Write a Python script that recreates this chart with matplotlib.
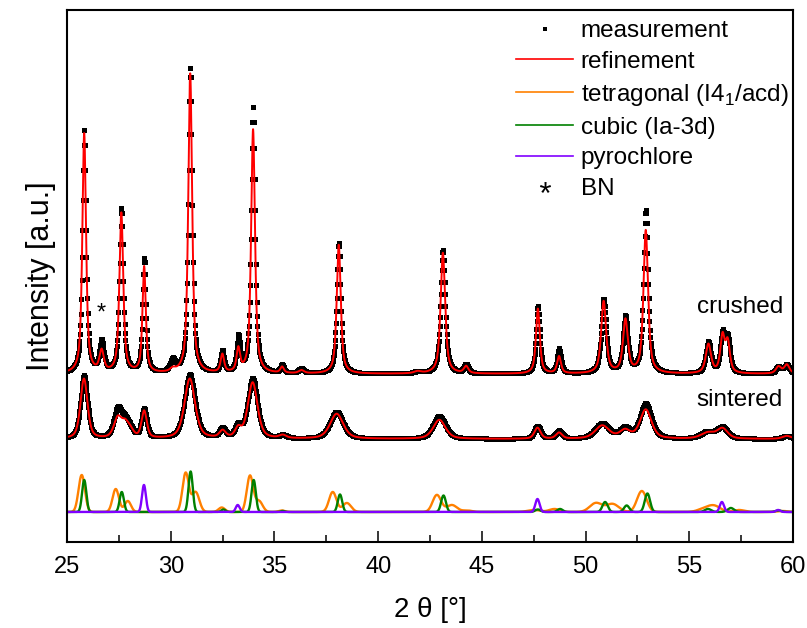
import numpy as np
import matplotlib
matplotlib.use('Agg')
import matplotlib.pyplot as plt
from matplotlib.lines import Line2D

plt.rcParams['font.family'] = ['Liberation Sans', 'DejaVu Sans']
plt.rcParams['mathtext.fontset'] = 'custom'
plt.rcParams['mathtext.rm'] = 'Liberation Sans'

# 2theta grids: measured scan steps and a finer one for the calculated curves
scan_theta = np.arange(25.0, 60.0001, 0.02)
two_theta = np.arange(25.0, 60.0001, 0.005)

# crushed sample: peak position, fitted height, observed height, FWHM
crushed_pos = [25.83, 26.67, 27.62, 28.72, 30.10, 30.94, 32.49, 33.26, 33.97, 35.37, 36.30,
               38.10, 41.90, 43.12, 44.24, 47.70, 48.72, 50.87, 51.92, 52.90, 55.92, 56.60,
               56.85, 59.30, 59.70]
crushed_fit = [240, 21, 160, 106, 3, 300, 18, 23, 244, 6, 3,
               129, 2, 121, 7, 65, 17, 72, 53, 143, 29, 36,
               30, 7, 9]
crushed_obs = [245, 31, 164, 114, 12, 305, 21, 35, 268, 8, 5,
               131, 2, 124, 9, 67, 25, 74, 56, 163, 31, 38,
               34, 7, 9]
crushed_w = [0.21, 0.25, 0.22, 0.19, 0.30, 0.22, 0.20, 0.20, 0.22, 0.20, 0.30,
             0.23, 0.40, 0.26, 0.25, 0.22, 0.22, 0.28, 0.28, 0.26, 0.30, 0.25,
             0.25, 0.30, 0.30]
crushed_bg = 168

# sintered sample
sintered_pos = [25.82, 27.45, 27.80, 28.05, 28.72, 30.92, 32.50, 33.25, 33.95, 35.40,
                38.00, 42.95, 47.68, 48.72, 50.80, 51.90, 52.90, 55.90, 56.60, 59.70]
sintered_fit = [60, 20, 12, 7, 27, 60, 7, 9, 56, 3,
                25, 19, 11, 6, 13, 8, 29, 6, 10, 3]
sintered_obs = [63, 29, 14, 7, 29, 64, 9, 12, 60, 3,
                27, 23, 13, 8, 15, 10, 35, 7, 11, 3]
sintered_w = [0.40, 0.45, 0.40, 0.40, 0.30, 0.60, 0.35, 0.35, 0.55, 0.40,
              0.75, 0.70, 0.35, 0.35, 0.80, 0.60, 0.65, 0.80, 0.60, 0.50]
sintered_bg = 103

# reference phases
tetra_pos = [25.71, 27.35, 27.93, 30.72, 31.20, 32.46, 33.82, 34.25, 35.35, 37.81, 38.49,
             42.83, 43.55, 44.30, 47.50, 48.50, 50.50, 51.30, 52.71, 55.70, 56.20, 57.40, 59.50]
tetra_h = [37, 23, 11, 39, 20, 4.5, 36, 11, 1.5, 20, 9,
           17, 7, 1.5, 2, 3, 9, 8, 21, 3, 6, 2, 1]
tetra_w = [0.36, 0.36, 0.36, 0.36, 0.42, 0.36, 0.36, 0.42, 0.36, 0.42, 0.48,
           0.48, 0.60, 0.48, 0.70, 0.60, 0.70, 0.70, 0.54, 0.70, 0.70, 0.60, 0.60]

cubic_pos = [25.83, 27.64, 30.96, 32.54, 34.00, 35.40, 38.16, 43.15, 47.70, 48.77,
             50.94, 51.98, 52.98, 55.90, 57.00, 59.30]
cubic_h = [32, 20, 40.5, 2.5, 32, 1, 17.5, 16.5, 2.5, 3, 10, 6.5, 18.5, 3, 4, 1.5]
cubic_w = [0.24, 0.24, 0.24, 0.24, 0.24, 0.24, 0.25, 0.27, 0.30, 0.30,
           0.30, 0.30, 0.30, 0.36, 0.36, 0.36]

pyro_pos = [28.71, 33.23, 47.68, 56.57, 59.28]
pyro_h = [27, 7, 13, 10, 2]
pyro_w = [0.22, 0.22, 0.24, 0.24, 0.24]
phase_bg = 30


def pseudo_voigt(x, pos, h, w, eta):
    y = np.zeros_like(x)
    for p, a, f in zip(pos, h, w):
        d = (x - p) / f
        y += a * (eta / (1 + 4 * d ** 2) + (1 - eta) * np.exp(-4 * np.log(2) * d ** 2))
    return y


fig = plt.figure(figsize=(8.07, 6.28), dpi=100)
ax = fig.add_axes([0.083, 0.137, 0.8997, 0.847])

# phases at the bottom
ax.plot(two_theta, phase_bg + pseudo_voigt(two_theta, tetra_pos, tetra_h, tetra_w, 0.0),
        color='#ff8000', lw=1.7)
ax.plot(two_theta, phase_bg + pseudo_voigt(two_theta, cubic_pos, cubic_h, cubic_w, 0.0),
        color='#008000', lw=1.7)
ax.plot(two_theta, phase_bg + pseudo_voigt(two_theta, pyro_pos, pyro_h, pyro_w, 0.0),
        color='#8000ff', lw=1.7)

# measured and refined patterns
for pos, obs, fit, w, bg, eta in [
        (crushed_pos, crushed_obs, crushed_fit, crushed_w, crushed_bg, 0.7),
        (sintered_pos, sintered_obs, sintered_fit, sintered_w, sintered_bg, 0.5)]:
    ax.plot(scan_theta, bg + pseudo_voigt(scan_theta, pos, obs, w, eta), 's',
            color='black', ms=3.6, mew=0)
    ax.plot(two_theta, bg + pseudo_voigt(two_theta, pos, fit, w, eta),
            color='#ff0000', lw=1.4)

ax.text(59.52, 235, 'crushed', fontsize=17.5, ha='right', va='center')
ax.text(59.52, 142, 'sintered', fontsize=17.5, ha='right', va='center')
ax.text(26.65, 228, '*', fontsize=17, ha='center', va='center')

ax.set_xlim(25, 60)
ax.set_ylim(0, 532)
ax.set_xticks(np.arange(25, 61, 5))
ax.set_xticks(np.arange(27.5, 60, 5), minor=True)
ax.set_yticks([])
ax.tick_params(axis='x', which='major', direction='in', length=8, width=1.1,
               labelsize=17, pad=10)
ax.tick_params(axis='x', which='minor', direction='in', length=5, width=1.1)
for s in ax.spines.values():
    s.set_linewidth(1.5)

ax.set_xlabel('2 θ [°]', fontsize=20, labelpad=14)
ax.set_ylabel('Intensity [a.u.]', fontsize=22, labelpad=8)

handles = [
    Line2D([], [], ls='none', marker='s', ms=2.5, color='black', mew=0),
    Line2D([], [], color='#ff0000', lw=1.2),
    Line2D([], [], color='#ff8000', lw=1.2),
    Line2D([], [], color='#008000', lw=1.2),
    Line2D([], [], color='#8000ff', lw=1.2),
    Line2D([], [], ls='none', marker='$*$', ms=8, color='black', mew=0),
]
labels = ['measurement', 'refinement', r'tetragonal (I4$_{\mathregular{1}}$/acd)',
          'cubic (Ia-3d)', 'pyrochlore', 'BN']
ax.legend(handles, labels, loc='upper right', bbox_to_anchor=(1.0, 0.99), frameon=False,
          fontsize=17.5, handlelength=2.35, handletextpad=0.3, labelspacing=0.36,
          borderaxespad=0.1, borderpad=0.1)

fig.savefig('out.png', dpi=100)
